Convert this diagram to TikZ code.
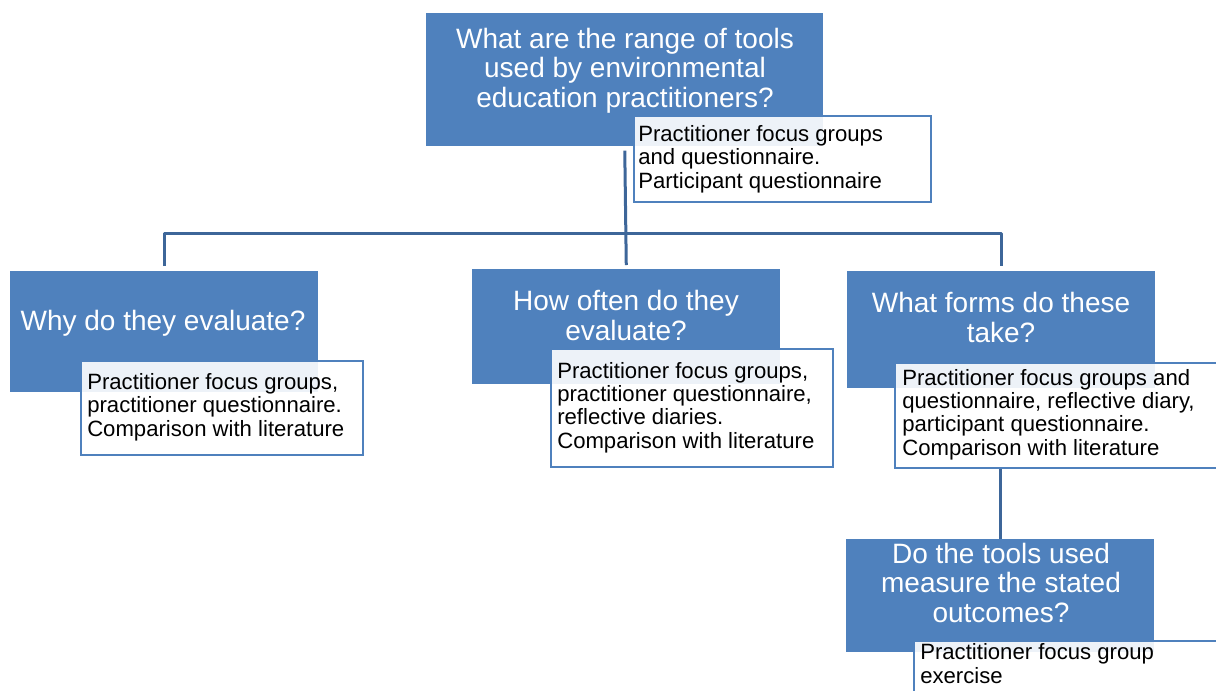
\documentclass[tikz,border=0pt]{standalone}
\usepackage{fontspec}
\setmainfont{Liberation Sans}
\definecolor{qblue}{RGB}{79,129,189}
\definecolor{lineblue}{RGB}{61,102,153}
\begin{document}
\begin{tikzpicture}[x=0.75pt,y=-0.75pt,
  sz/.style 2 args={minimum width=#1*0.75pt, minimum height=#2*0.75pt},
  qbox/.style={fill=qblue, draw=none, inner sep=0pt, anchor=north west},
  nbox/.style={fill=white, fill opacity=0.9, draw=qblue, line width=1.5pt, inner sep=0pt, anchor=north west},
  qtext/.style={text=white, font=\fontsize{21}{22.1}\selectfont, align=center, anchor=base, inner sep=0pt},
  ntext/.style={text=black, font=\fontsize{16.6}{17.3}\selectfont, align=left, anchor=base west, inner sep=0pt},
  conn/.style={draw=lineblue, line width=2.25pt, line join=round}]
\useasboundingbox (0,0) rectangle (1216,690);
\clip (0,0) rectangle (1216,690);

% question boxes
\node[qbox, sz={397}{133}] (q0) at (426,13) {};
\node[qbox, sz={308}{121}] (q1) at (10,271) {};
\node[qbox, sz={308}{115}] (q2) at (472,269) {};
\node[qbox, sz={308}{117}] (q3) at (847,271) {};
\node[qbox, sz={308}{113}] (q4) at (846,539) {};

% question texts (anchor base = last line baseline)
\node[qtext] (t0) at (625,107) {What are the range of tools\\used by environmental\\education practitioners?};
\node[qtext] (t1) at (163,330) {Why do they evaluate?};
\node[qtext] (t2) at (626,340) {How often do they\\evaluate?};
\node[qtext] (t3) at (1001,342) {What forms do these\\take?};
\node[qtext] (t4) at (1001,622) {Do the tools used\\measure the stated\\outcomes?};

% connectors
\coordinate (hub) at (625,233);
\draw[conn] ([yshift=-3pt]q0.south) -- ([yshift=3pt]q2.north);
\draw[conn] ([yshift=3.75pt]q1.north) |- (hub) -| ([yshift=3.75pt]q3.north);

% note boxes
\node[nbox, sz={297}{86}] (n0) at (633,115) {};
\node[nbox, sz={282}{94}] (n1) at (80,360) {};
\node[nbox, sz={282}{118}] (n2) at (550,348) {};
\node[nbox, sz={340}{105}] (n3) at (894,362) {};
\node[nbox, sz={320}{70}] (n4) at (913,640) {};

\draw[conn] (n3.south -| q4.north) -- (q4.north);

% note texts
\node[ntext] (m0) at (638,188) {Practitioner focus groups\\and questionnaire.\\Participant questionnaire};
\node[ntext] (m1) at (87,436) {Practitioner focus groups,\\practitioner questionnaire.\\Comparison with literature};
\node[ntext] (m2) at (557,448) {Practitioner focus groups,\\practitioner questionnaire,\\reflective diaries.\\Comparison with literature};
\node[ntext] (m3) at (902,455) {Practitioner focus groups and\\questionnaire, reflective diary,\\participant questionnaire.\\Comparison with literature};
\node[ntext] (m4) at (920,683) {Practitioner focus group\\exercise};
\end{tikzpicture}
\end{document}
